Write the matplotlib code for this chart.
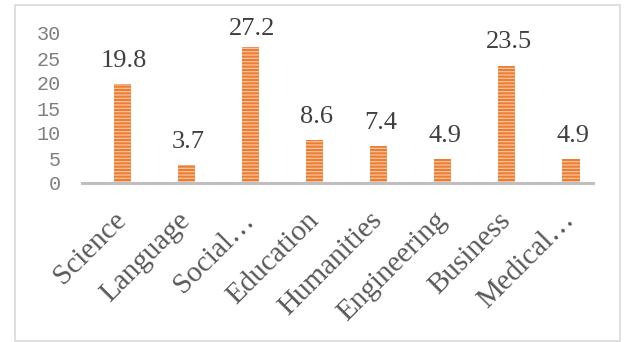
import matplotlib
matplotlib.use("Agg")
import matplotlib.pyplot as plt
from matplotlib.patches import Rectangle

# ==============================
# DATA
# ==============================

fields = ["Science", "Language", "Social\u2026", "Education", "Humanities",
          "Engineering", "Business", "Medical\u2026"]
percent = [19.8, 3.7, 27.2, 8.6, 7.4, 4.9, 23.5, 4.9]
y_ticks = [0, 5, 10, 15, 20, 25, 30]

# ==============================
# FIGURE
# ==============================

W, H = 624, 342
fig = plt.figure(figsize=(W / 100, H / 100), dpi=100)
fig.patch.set_facecolor("white")

# light grey frame around the whole chart
fig.patches.append(Rectangle((15 / W, 1 - 341 / H), 605 / W, 336 / H,
                             transform=fig.transFigure, fill=False,
                             edgecolor="#D9D9D9", linewidth=1.2))

ax = fig.add_axes([81.7 / W, 1 - 183 / H, (593 - 81.7) / W, 150 / H])

plt.rcParams["hatch.linewidth"] = 0.9

x = list(range(len(fields)))
ax.bar(x, percent, width=0.27, color="#ED7D31", edgecolor="#F7C3A0",
       linewidth=0, hatch="-----", zorder=2)

ax.set_xlim(-0.632, 7.345)
ax.set_ylim(0, 30)

# value labels above the bars (kept inside the frame)
for xi, v in zip(x, percent):
    ax.text(xi + 0.03, min(v + 3.4, 29.6), f"{v}", ha="center", va="baseline",
            fontsize=19, family="Liberation Serif", color="#404040",
            clip_on=False)

# ==============================
# AXES STYLE
# ==============================

for side in ["top", "right", "left"]:
    ax.spines[side].set_visible(False)
ax.spines["bottom"].set_color("#BFBFBF")
ax.spines["bottom"].set_linewidth(2.2)
ax.spines["bottom"].set_zorder(3)

ax.set_yticks(y_ticks)
ax.set_yticklabels([str(t) for t in y_ticks], family="Liberation Mono",
                   fontsize=14.5, color="#7F7F7F")
ax.tick_params(axis="y", length=0, pad=15)

ax.set_xticks(x)
ax.set_xticklabels(fields, rotation=45, ha="right", va="center",
                   rotation_mode="anchor", family="Liberation Serif",
                   fontsize=21, color="#595959")
ax.tick_params(axis="x", length=0, pad=24)

fig.savefig("out.png", dpi=100, facecolor="white")
